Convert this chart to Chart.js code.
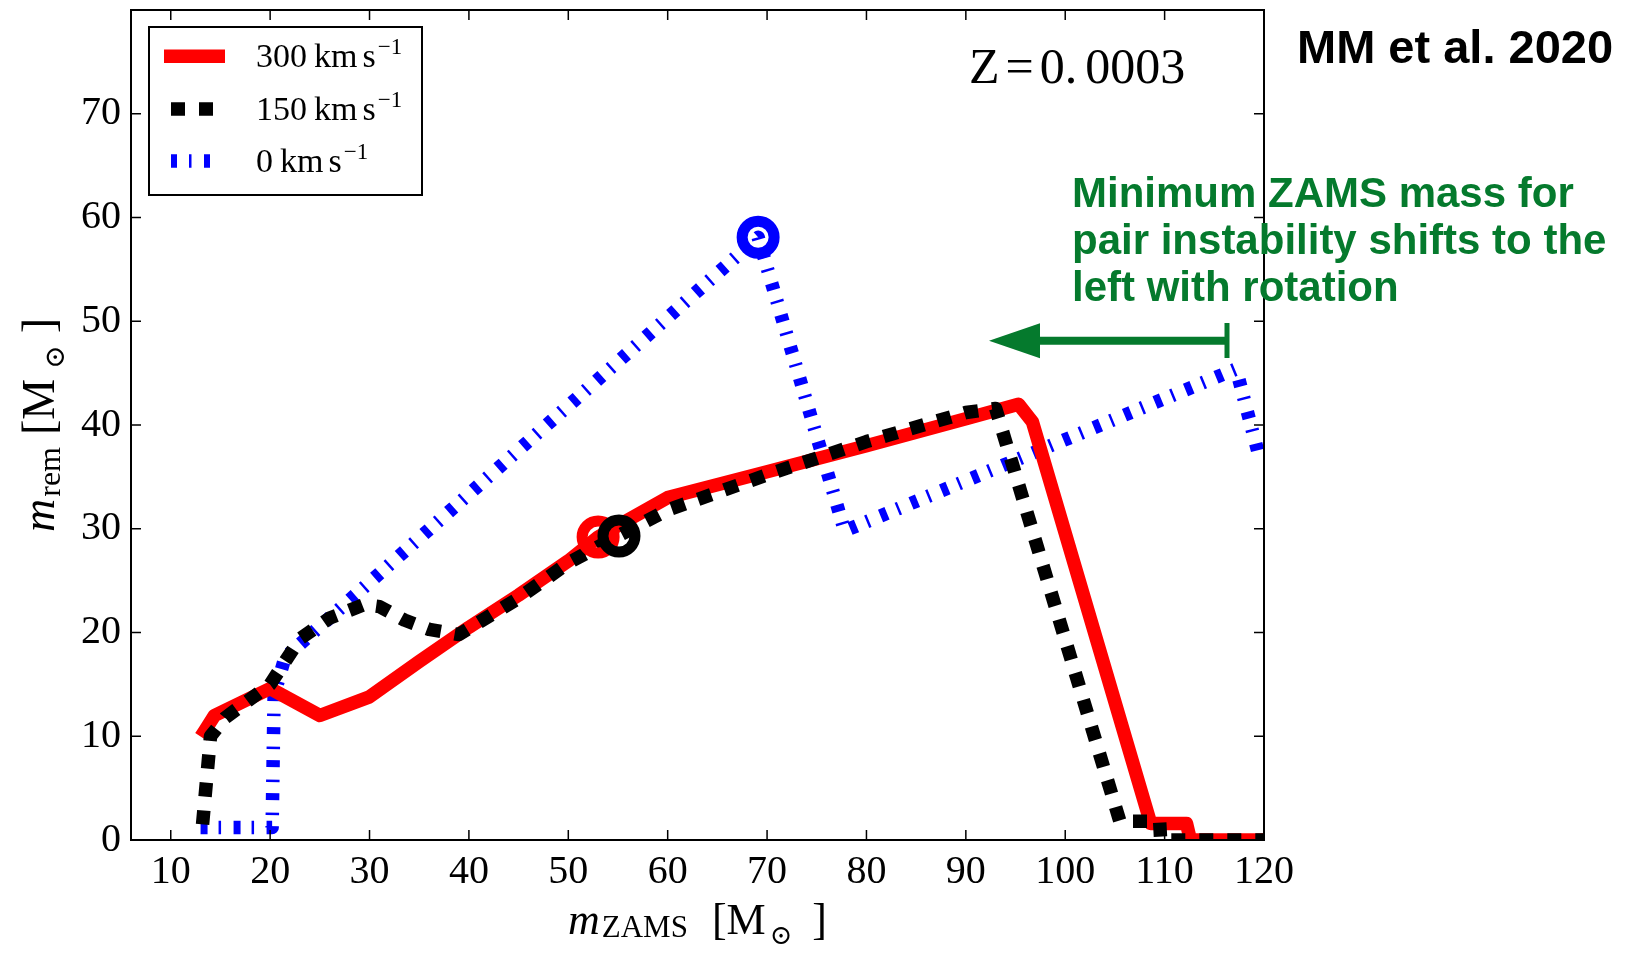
<!DOCTYPE html>
<html>
<head>
<meta charset="utf-8">
<script src="https://cdn.jsdelivr.net/npm/chart.js@4.4.1/dist/chart.umd.min.js"></script>
<style>
  html, body { margin: 0; padding: 0; background: #fff; }
  #chart { display: block; }
</style>
</head>
<body>
<canvas id="chart" width="1636" height="956"></canvas>
<script>
// 300 km/s (red, solid)
const redX = [13.4, 14.4, 20, 25, 30, 35, 40, 45, 50, 53, 55, 60, 70, 80, 90, 95.3, 96.7, 108.6, 112.2, 112.6, 120];
const redY = [10.5, 12, 14.6, 12, 13.8, 17.2, 20.5, 23.6, 26.9, 29.2, 30.3, 33, 35.5, 38, 40.6, 42, 40.3, 1.6, 1.6, 0, 0];

// 150 km/s (black, dotted)
const blackX = [13.2, 14, 15.5, 20, 23, 26, 29.5, 31, 33.5, 36, 39, 45, 50, 55, 60, 70, 80, 90, 93, 105.5, 109.5, 109.6, 120];
const blackY = [1.5, 10, 11.8, 15, 19.4, 21.4, 22.7, 22.5, 21.2, 20.3, 19.8, 23.3, 26.7, 29.3, 31.8, 35.2, 38.4, 41.2, 41.6, 1.8, 1.8, 0, 0];

// 0 km/s (blue, dash-dot)
const blueX = [13, 20.2, 20.4, 21.5, 69.1, 77.8, 117.2, 119.5];
const blueY = [1.2, 1.2, 14, 17.6, 58.1, 29.8, 45.4, 37];

// ring markers: red, black, blue
const ringX = [53, 55.1, 69.1];
const ringY = [29.2, 29.3, 58.1];

const xTicks = [10, 20, 30, 40, 50, 60, 70, 80, 90, 100, 110, 120];
const yTicks = [0, 10, 20, 30, 40, 50, 60, 70];
const speedLabels = ["300", "150", "0"];

const RED = "#ff0000", BLACK = "#000000", BLUE = "#0000ff", GREEN = "#057a2d";
const SERIF = "'Liberation Serif', 'DejaVu Serif', serif";
const SANS = "'Liberation Sans', Arial, sans-serif";

function toPoints(xs, ys) {
    return xs.map((x, i) => ({ x: x, y: ys[i] }));
}

function ring(i, color, order) {
    return {
        data: [{ x: ringX[i], y: ringY[i] }],
        showLine: false,
        pointRadius: 16,
        pointBorderWidth: 11,
        pointBorderColor: color,
        pointBackgroundColor: "rgba(0,0,0,0)",
        order: order
    };
}

// draws a row of text pieces (font size, italic, vertical shift, gap before)
function drawParts(ctx, parts, x, y, rotate, center) {
    ctx.save();
    ctx.translate(x, y);
    if (rotate) ctx.rotate(-Math.PI / 2);
    const fontOf = p => (p.it ? "italic " : "") + p.size + "px " + SERIF;
    let total = 0;
    parts.forEach(p => { ctx.font = fontOf(p); total += (p.gap || 0) + ctx.measureText(p.t).width; });
    let cx = center ? -total / 2 : 0;
    ctx.textBaseline = "alphabetic";
    ctx.textAlign = "left";
    parts.forEach(p => {
        ctx.font = fontOf(p);
        cx += p.gap || 0;
        ctx.fillText(p.t, cx, p.dy || 0);
        cx += ctx.measureText(p.t).width;
    });
    ctx.restore();
}

const overlay = {
    id: "overlay",
    afterDraw(chart) {
        const { ctx, chartArea: a, scales } = chart;
        const xs = scales.x, ys = scales.y;
        ctx.save();
        ctx.fillStyle = "#000";
        ctx.strokeStyle = "#000";

        // frame + inward ticks
        ctx.lineWidth = 2;
        ctx.strokeRect(a.left, a.top, a.right - a.left, a.bottom - a.top);
        ctx.lineWidth = 1.5;
        ctx.beginPath();
        xTicks.forEach(v => {
            const px = xs.getPixelForValue(v);
            ctx.moveTo(px, a.bottom); ctx.lineTo(px, a.bottom - 10);
            ctx.moveTo(px, a.top); ctx.lineTo(px, a.top + 10);
        });
        yTicks.forEach(v => {
            const py = ys.getPixelForValue(v);
            ctx.moveTo(a.left, py); ctx.lineTo(a.left + 10, py);
            ctx.moveTo(a.right, py); ctx.lineTo(a.right - 10, py);
        });
        ctx.stroke();

        // legend
        ctx.fillStyle = "#fff";
        ctx.fillRect(149, 27, 273, 168);
        ctx.lineWidth = 2;
        ctx.strokeStyle = "#000";
        ctx.strokeRect(149, 27, 273, 168);
        const rows = [66.7, 119.5, 171.5];
        const styles = [
            { c: RED, dash: [], x0: 164, x1: 225 },
            { c: BLACK, dash: [14, 14], x0: 171, x1: 213 },
            { c: BLUE, dash: [6, 12, 2.5, 12.5], x0: 171, x1: 212 }
        ];
        styles.forEach((s, i) => {
            ctx.save();
            ctx.strokeStyle = s.c;
            ctx.lineWidth = 13.5;
            ctx.setLineDash(s.dash);
            ctx.lineCap = "butt";
            ctx.beginPath();
            ctx.moveTo(s.x0, rows[i] - 10.5);
            ctx.lineTo(s.x1, rows[i] - 10.5);
            ctx.stroke();
            ctx.restore();
            ctx.fillStyle = "#000";
            drawParts(ctx, [
                { t: speedLabels[i], size: 34 },
                { t: "km", size: 34, gap: 7 },
                { t: "s", size: 34, gap: 5 },
                { t: "\u22121", size: 23, dy: -13, gap: 2 }
            ], 256, rows[i], false, false);
        });

        // metallicity
        drawParts(ctx, [
            { t: "Z", size: 50 },
            { t: "=", size: 50, gap: 6 },
            { t: "0.", size: 50, gap: 6 },
            { t: "0003", size: 50, gap: 8 }
        ], 969, 83, false, false);

        // axis titles
        drawParts(ctx, [
            { t: "m", size: 44, it: true },
            { t: "ZAMS", size: 31, dy: 3, gap: 2 },
            { t: "[", size: 44, gap: 24 },
            { t: "M", size: 44 },
            { t: "\u2299", size: 27, dy: 10, gap: 4 },
            { t: "]", size: 44, gap: 20 }
        ], (a.left + a.right) / 2, 934, false, true);
        drawParts(ctx, [
            { t: "m", size: 46, it: true },
            { t: "rem", size: 32, dy: 6, gap: 2 },
            { t: "[", size: 46, gap: 12 },
            { t: "M", size: 46 },
            { t: "\u2299", size: 28, dy: 10, gap: 10 },
            { t: "]", size: 46, gap: 12 }
        ], 54, (a.top + a.bottom) / 2, true, true);

        // annotations
        ctx.fillStyle = "#000";
        ctx.textAlign = "left";
        ctx.textBaseline = "alphabetic";
        ctx.font = "bold 47px " + SANS;
        ctx.fillText("MM et al. 2020", 1297, 63);

        ctx.fillStyle = GREEN;
        ctx.font = "bold 42px " + SANS;
        ctx.fillText("Minimum ZAMS mass for", 1072, 207);
        ctx.fillText("pair instability shifts to the", 1072, 254);
        ctx.fillText("left with rotation", 1072, 301);

        // arrow
        const ay = 340.7;
        ctx.strokeStyle = GREEN;
        ctx.lineWidth = 8;
        ctx.beginPath();
        ctx.moveTo(1036, ay); ctx.lineTo(1227, ay);
        ctx.stroke();
        ctx.lineWidth = 5;
        ctx.beginPath();
        ctx.moveTo(1227, 323); ctx.lineTo(1227, 358);
        ctx.stroke();
        ctx.beginPath();
        ctx.moveTo(989, ay);
        ctx.lineTo(1040, ay - 17.5);
        ctx.lineTo(1040, ay + 17.5);
        ctx.closePath();
        ctx.fill();

        ctx.restore();
    }
};

const chart = new Chart(document.getElementById("chart"), {
    type: "line",
    data: {
        datasets: [
            ring(1, BLACK, 0),
            ring(0, RED, 1),
            ring(2, BLUE, 2),
            {
                label: "150",
                data: toPoints(blackX, blackY),
                borderColor: BLACK,
                borderWidth: 13.5,
                borderDash: [14, 14],
                borderJoinStyle: "round",
                pointRadius: 0,
                order: 3
            },
            {
                label: "300",
                data: toPoints(redX, redY),
                borderColor: RED,
                borderWidth: 13.5,
                borderCapStyle: "square",
                borderJoinStyle: "round",
                pointRadius: 0,
                order: 4
            },
            {
                label: "0",
                data: toPoints(blueX, blueY),
                borderColor: BLUE,
                borderWidth: 13.5,
                borderDash: [7, 11, 2.5, 12.5],
                borderJoinStyle: "round",
                pointRadius: 0,
                order: 5
            }
        ]
    },
    options: {
        responsive: false,
        animation: false,
        devicePixelRatio: 1,
        layout: { autoPadding: false, padding: { top: 10, right: 372, left: 0, bottom: 0 } },
        plugins: { legend: { display: false }, tooltip: { enabled: false } },
        scales: {
            x: {
                type: "linear",
                min: 6,
                max: 120,
                afterBuildTicks: s => { s.ticks = xTicks.map(v => ({ value: v })); },
                afterFit: s => { s.height = 116; s.paddingLeft = 0; s.paddingRight = 0; },
                grid: { display: false, drawTicks: false },
                border: { display: false },
                ticks: { color: "#000", font: { family: SERIF, size: 40 }, padding: 8, maxRotation: 0, autoSkip: false }
            },
            y: {
                type: "linear",
                min: 0,
                max: 80,
                afterBuildTicks: s => { s.ticks = yTicks.map(v => ({ value: v })); },
                afterFit: s => { s.width = 131; s.paddingTop = 0; s.paddingBottom = 0; },
                grid: { display: false, drawTicks: false },
                border: { display: false },
                ticks: { color: "#000", font: { family: SERIF, size: 40 }, padding: 10, autoSkip: false }
            }
        }
    },
    plugins: [overlay]
});
</script>
</body>
</html>
